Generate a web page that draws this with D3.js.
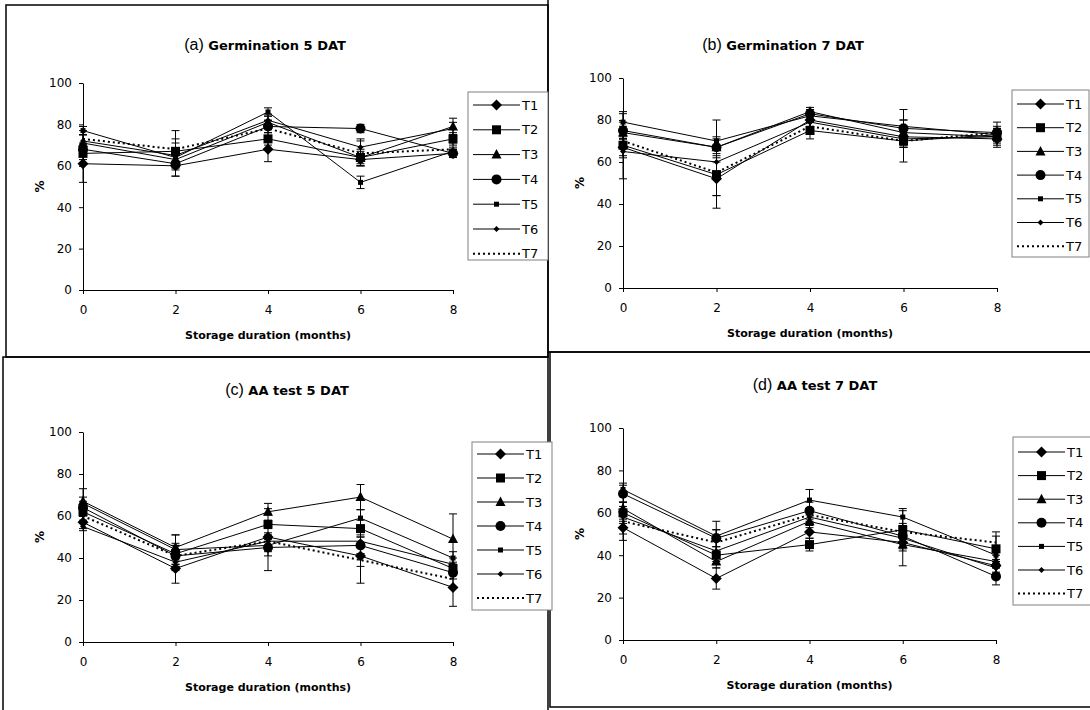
<!DOCTYPE html>
<html><head><meta charset="utf-8">
<script src="https://cdn.jsdelivr.net/npm/d3@7"></script>
<style>body{margin:0;background:#fff}svg{display:block}</style></head>
<body><svg id="c" width="1090" height="710"></svg>
<script>
// ---------- data ----------
const months = [0, 2, 4, 6, 8];
const seriesNames = ["T1", "T2", "T3", "T4", "T5", "T6", "T7"];
const yTicks = [0, 20, 40, 60, 80, 100];
const xTicks = [0, 2, 4, 6, 8];

// (a) Germination 5 DAT
const germ5 = [
  [61, 60, 68, 63, 66],
  [66, 67, 73, 64, 73],
  [71, 63, 81, 64, 79],
  [68, 61, 79, 78, 66],
  [77, 64, 86, 52, 67],
  [72, 65, 82, 69, 78],
  [73, 68, 78, 66, 68]
];
const germ5Err = [
  [9, 5, 6, 3, 2],
  [3, 6, 3, 4, 3],
  [4, 5, 3, 3, 4],
  [3, 6, 3, 2, 2],
  [2, 4, 2, 3, 2],
  [3, 6, 3, 4, 3],
  [4, 9, 4, 6, 3]
];
// (b) Germination 7 DAT
const germ7 = [
  [67, 52, 80, 72, 71],
  [68, 54, 75, 70, 73],
  [74, 67, 84, 74, 72],
  [75, 67, 83, 76, 74],
  [79, 70, 82, 77, 73],
  [65, 60, 79, 71, 72],
  [70, 55, 77, 70, 74]
];
const germ7Err = [
  [4, 14, 3, 4, 3],
  [16, 10, 4, 10, 3],
  [3, 4, 2, 3, 2],
  [4, 5, 2, 9, 2],
  [4, 10, 3, 3, 6],
  [3, 6, 3, 4, 3],
  [2, 11, 2, 3, 3]
];
// (c) AA test 5 DAT
const aa5 = [
  [57, 35, 50, 41, 26],
  [62, 42, 56, 54, 35],
  [67, 45, 62, 69, 49],
  [64, 41, 45, 46, 33],
  [66, 44, 46, 59, 40],
  [55, 38, 48, 48, 37],
  [60, 41, 48, 39, 30]
];
const aa5Err = [
  [3, 7, 16, 13, 9],
  [4, 5, 2, 4, 3],
  [6, 6, 1.5, 6, 12],
  [3, 5, 4, 4, 3],
  [3, 7, 3, 4, 3],
  [2, 4, 3, 3, 3],
  [3, 5, 4, 3, 4]
];
// (d) AA test 7 DAT
const aa7 = [
  [53, 29, 51, 46, 35],
  [60, 40, 45, 52, 43],
  [62, 37, 56, 45, 37],
  [69, 48, 61, 49, 30],
  [71, 49, 66, 58, 40],
  [58, 42, 58, 48, 34],
  [56, 46, 59, 51, 46]
];
const aa7Err = [
  [3, 5, 3, 3, 3],
  [3, 4, 3, 3, 8],
  [3, 3, 3, 3, 3],
  [4, 4, 4, 3, 4],
  [3, 7, 5, 4, 3],
  [3, 5, 3, 13, 3],
  [9, 6, 3, 3, 3]
];

// ---------- layout ----------
const panels = [
  {letter: "(a)", title: "Germination 5 DAT", values: germ5, err: germ5Err,
   x0: 83, x1: 453, yb: 290, yt: 83, titleX: 265, titleY: 50, ylabX: 40,
   leg: {x: 468, y: 92, w: 80, h: 168, r0: 13, step: 24.8}},
  {letter: "(b)", title: "Germination 7 DAT", values: germ7, err: germ7Err,
   x0: 623, x1: 997, yb: 288, yt: 78, titleX: 783, titleY: 50, ylabX: 580,
   leg: {x: 1012, y: 90, w: 77, h: 167, r0: 14, step: 23.7}},
  {letter: "(c)", title: "AA test 5 DAT", values: aa5, err: aa5Err,
   x0: 83, x1: 453, yb: 642, yt: 432, titleX: 287, titleY: 395, ylabX: 40,
   leg: {x: 472, y: 442, w: 80, h: 168, r0: 12, step: 24}},
  {letter: "(d)", title: "AA test 7 DAT", values: aa7, err: aa7Err,
   x0: 623, x1: 996, yb: 640, yt: 428, titleX: 815, titleY: 390, ylabX: 580,
   leg: {x: 1013, y: 437, w: 80, h: 168, r0: 15, step: 23.6}}
];

const svg = d3.select("#c");
const FONT = "DejaVu Sans, Verdana, sans-serif";

// marker shapes
function marker(g, k, x, y) {
  if (k === 0) g.append("path").attr("d", `M${x},${y-5.5}L${x+5.5},${y}L${x},${y+5.5}L${x-5.5},${y}Z`).attr("fill", "#000");
  else if (k === 1) g.append("rect").attr("x", x-4.5).attr("y", y-4.5).attr("width", 9).attr("height", 9).attr("fill", "#000");
  else if (k === 2) g.append("path").attr("d", `M${x},${y-5.5}L${x+5},${y+4}L${x-5},${y+4}Z`).attr("fill", "#000");
  else if (k === 3) g.append("circle").attr("cx", x).attr("cy", y).attr("r", 5).attr("fill", "#000");
  else if (k === 4) g.append("rect").attr("x", x-2.5).attr("y", y-2.5).attr("width", 5).attr("height", 5).attr("fill", "#000");
  else if (k === 5) g.append("path").attr("d", `M${x},${y-3}L${x+3},${y}L${x},${y+3}L${x-3},${y}Z`).attr("fill", "#000");
}

// panel borders
const border = svg.append("g").attr("stroke", "#000").attr("stroke-width", 1.5).attr("fill", "none");
border.append("rect").attr("x", 6).attr("y", 5).attr("width", 542).attr("height", 352);
border.append("line").attr("x1", 548).attr("y1", 0).attr("x2", 548).attr("y2", 357);
border.append("line").attr("x1", 548).attr("y1", 352).attr("x2", 1090).attr("y2", 352);
border.append("path").attr("d", "M3,712V357H548V712");
border.append("path").attr("d", "M1092,352H550V707H1092");

panels.forEach(p => {
  const g = svg.append("g");
  const x = d3.scaleLinear().domain([0, 8]).range([p.x0, p.x1]);
  const y = d3.scaleLinear().domain([0, 100]).range([p.yb, p.yt]);

  // axes
  const ya = g.append("g").attr("transform", `translate(${p.x0},0)`)
    .call(d3.axisLeft(y).tickValues(yTicks).tickSize(4).tickSizeOuter(0).tickPadding(7));
  const xa = g.append("g").attr("transform", `translate(0,${p.yb})`)
    .call(d3.axisBottom(x).tickValues(xTicks).tickSize(4).tickSizeOuter(0).tickPadding(11));
  [ya, xa].forEach(a => {
    a.selectAll("path,line").attr("stroke", "#000");
    a.selectAll("text").attr("font-family", FONT).attr("font-size", 12).attr("fill", "#000");
  });

  // axis titles
  g.append("text").attr("x", (p.x0 + p.x1) / 2).attr("y", p.yb + 49)
    .attr("text-anchor", "middle").attr("font-family", FONT).attr("font-size", 11)
    .attr("font-weight", "bold").text("Storage duration (months)");
  g.append("text").attr("transform", `translate(${p.ylabX},${(p.yb + p.yt) / 2}) rotate(-90)`)
    .attr("text-anchor", "middle").attr("dy", "0.35em").attr("font-family", FONT).attr("font-size", 12)
    .attr("font-weight", "bold").text("%");

  // title
  const t = g.append("text").attr("x", p.titleX).attr("y", p.titleY).attr("text-anchor", "middle");
  t.append("tspan").attr("font-family", "Liberation Sans, Arial, sans-serif").attr("font-size", 16).text(p.letter);
  t.append("tspan").attr("font-family", FONT).attr("font-size", 13).attr("font-weight", "bold").text(" " + p.title);

  // error bars
  const eg = g.append("g").attr("stroke", "#000").attr("stroke-width", 1);
  p.values.forEach((vals, si) => {
    vals.forEach((v, mi) => {
      const e = p.err[si][mi];
      const cx = x(months[mi]);
      eg.append("line").attr("x1", cx).attr("x2", cx).attr("y1", y(v - e)).attr("y2", y(v + e));
      eg.append("line").attr("x1", cx - 4).attr("x2", cx + 4).attr("y1", y(v - e)).attr("y2", y(v - e));
      eg.append("line").attr("x1", cx - 4).attr("x2", cx + 4).attr("y1", y(v + e)).attr("y2", y(v + e));
    });
  });

  // lines
  const line = d3.line().x((d, i) => x(months[i])).y(d => y(d));
  p.values.forEach((vals, si) => {
    const path = g.append("path").datum(vals).attr("d", line).attr("fill", "none").attr("stroke", "#000");
    if (si === 6) path.attr("stroke-width", 2).attr("stroke-dasharray", "2,3");
    else path.attr("stroke-width", 1);
  });
  // markers
  p.values.forEach((vals, si) => {
    vals.forEach((v, mi) => marker(g, si, x(months[mi]), y(v)));
  });

  // legend
  const L = p.leg;
  const lg = g.append("g");
  lg.append("rect").attr("x", L.x).attr("y", L.y).attr("width", L.w).attr("height", L.h)
    .attr("fill", "#fff").attr("stroke", "#808080").attr("stroke-width", 1);
  seriesNames.forEach((name, si) => {
    const cy = L.y + L.r0 + si * L.step;
    const ln = lg.append("line").attr("x1", L.x + 5).attr("x2", L.x + 52).attr("y1", cy).attr("y2", cy).attr("stroke", "#000");
    if (si === 6) ln.attr("stroke-width", 2).attr("stroke-dasharray", "2,3");
    marker(lg, si, L.x + 28.5, cy);
    lg.append("text").attr("x", L.x + 54).attr("y", cy).attr("dy", "0.36em")
      .attr("font-family", FONT).attr("font-size", 13).text(name);
  });
});
</script>
</body></html>
